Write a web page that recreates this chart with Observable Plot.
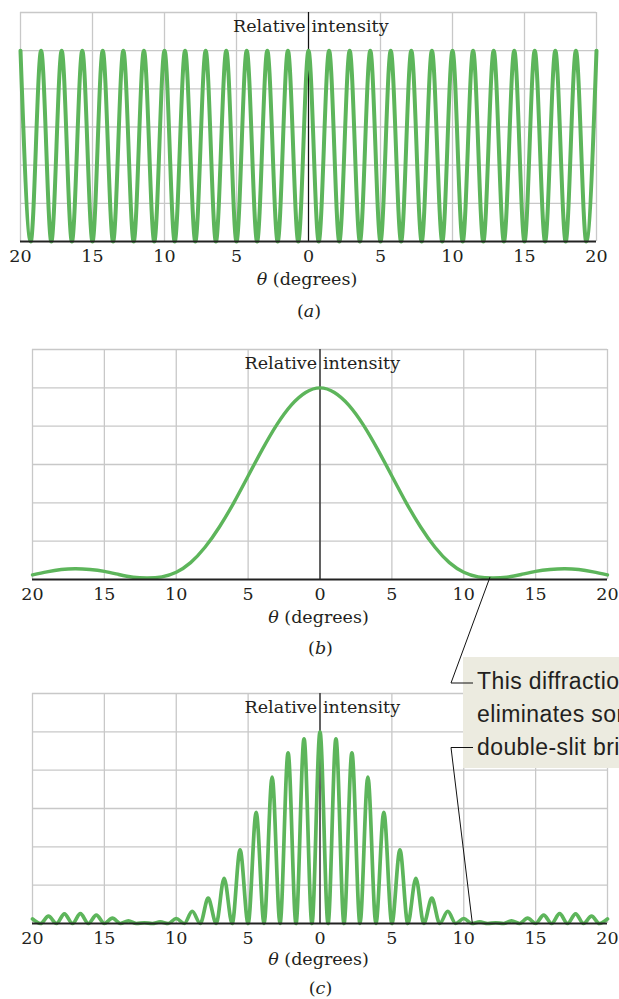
<!DOCTYPE html>
<html>
<head>
<meta charset="utf-8">
<script src="https://cdn.jsdelivr.net/npm/d3@7"></script>
<script src="https://cdn.jsdelivr.net/npm/@observablehq/plot@0.6"></script>
<style>
  html, body { margin: 0; padding: 0; background: #fff; }
  #root { position: relative; width: 619px; height: 999px; overflow: hidden; background: #fff; font-family: "DejaVu Serif", serif; color: #231f20; }
  .lbl { position: absolute; transform: translate(-50%, -50%); white-space: nowrap; font-size: 17.5px; line-height: 20px; }
  .box { position: absolute; background: #ecebe0; font-family: "Liberation Sans", Arial, sans-serif; font-size: 23px; letter-spacing: 0.4px; line-height: 33px; white-space: nowrap; color: #231f20; box-sizing: border-box; }
</style>
</head>
<body>
<div id="root"></div>
<script>
// ---------- data ----------
const xTicks = [-20, -15, -10, -5, 0, 5, 10, 15, 20];
const yGridValues = [1, 2, 3, 4, 5, 6];

// (a) double-slit interference: peaks and troughs
const aTheta = [-20, -19.29, -18.57, -17.86, -17.14, -16.43, -15.71, -15, -14.29, -13.57, -12.86, -12.14, -11.43, -10.71, -10, -9.29, -8.57, -7.86, -7.14, -6.43, -5.71, -5, -4.29, -3.57, -2.86, -2.14, -1.43, -0.71, 0, 0.71, 1.43, 2.14, 2.86, 3.57, 4.29, 5, 5.71, 6.43, 7.14, 7.86, 8.57, 9.29, 10, 10.71, 11.43, 12.14, 12.86, 13.57, 14.29, 15, 15.71, 16.43, 17.14, 17.86, 18.57, 19.29, 20];
const aIntensity = [5, 0, 5, 0, 5, 0, 5, 0, 5, 0, 5, 0, 5, 0, 5, 0, 5, 0, 5, 0, 5, 0, 5, 0, 5, 0, 5, 0, 5, 0, 5, 0, 5, 0, 5, 0, 5, 0, 5, 0, 5, 0, 5, 0, 5, 0, 5, 0, 5, 0, 5, 0, 5, 0, 5, 0, 5];

// (b) single-slit diffraction envelope
const bTheta = [-20, -19, -18, -17, -16, -15, -14, -13, -12, -11, -10, -9, -8, -7, -6, -5, -4, -3, -2, -1, 0, 1, 2, 3, 4, 5, 6, 7, 8, 9, 10, 11, 12, 13, 14, 15, 16, 17, 18, 19, 20];
const bIntensity = [0.12, 0.20, 0.26, 0.28, 0.26, 0.21, 0.13, 0.06, 0.04, 0.07, 0.19, 0.44, 0.84, 1.37, 2.00, 2.70, 3.40, 4.04, 4.55, 4.88, 5.00, 4.88, 4.55, 4.04, 3.40, 2.70, 2.00, 1.37, 0.84, 0.44, 0.19, 0.07, 0.04, 0.06, 0.13, 0.21, 0.26, 0.28, 0.26, 0.20, 0.12];

// (c) combined pattern: peaks and troughs
const cTheta = [-20, -19.44, -18.89, -18.33, -17.78, -17.22, -16.67, -16.11, -15.56, -15, -14.44, -13.89, -13.33, -12.78, -12.22, -11.67, -11.11, -10.56, -10, -9.44, -8.89, -8.33, -7.78, -7.22, -6.67, -6.11, -5.56, -5, -4.44, -3.89, -3.33, -2.78, -2.22, -1.67, -1.11, -0.56, 0, 0.56, 1.11, 1.67, 2.22, 2.78, 3.33, 3.89, 4.44, 5, 5.56, 6.11, 6.67, 7.22, 7.78, 8.33, 8.89, 9.44, 10, 10.56, 11.11, 11.67, 12.22, 12.78, 13.33, 13.89, 14.44, 15, 15.56, 16.11, 16.67, 17.22, 17.78, 18.33, 18.89, 19.44, 20];
const cIntensity = [0.12, 0, 0.19, 0, 0.25, 0, 0.26, 0, 0.22, 0, 0.14, 0, 0.07, 0, 0.02, 0, 0.04, 0, 0.13, 0, 0.32, 0, 0.66, 0, 1.18, 0, 1.92, 0, 2.90, 0, 3.82, 0, 4.45, 0, 4.82, 0, 5.00, 0, 4.82, 0, 4.45, 0, 3.82, 0, 2.90, 0, 1.92, 0, 1.18, 0, 0.66, 0, 0.32, 0, 0.13, 0, 0.04, 0, 0.02, 0, 0.07, 0, 0.14, 0, 0.22, 0, 0.26, 0, 0.25, 0, 0.19, 0, 0.12];

const panelLetters = ["a", "b", "c"];
const topText = ["Relative", "intensity"];
const axisLabelText = " (degrees)";
const calloutLines = ["This diffraction minimum", "eliminates some of the", "double-slit bright fringes."];

// ---------- styles ----------
const GREEN = "#5db55b";
const GRID = "#c8c8c8";
const INK = "#231f20";

const root = document.getElementById("root");

function panel({theta, intensity, top, marginLeft, marginRight, plotHeight, strokeWidth, curve}) {
  const data = theta.map((t, i) => ({t, v: intensity[i]}));
  const marginTop = 12, marginBottom = 30;
  const chart = Plot.plot({
    width: 619,
    height: marginTop + plotHeight + marginBottom,
    marginTop, marginBottom, marginLeft, marginRight,
    style: {fontFamily: "DejaVu Serif, serif", fontSize: "17.5px", color: INK, background: "transparent", overflow: "visible"},
    x: {domain: [-20, 20], label: null},
    y: {domain: [0, 6], axis: null, label: null},
    marks: [
      Plot.gridX(xTicks, {stroke: GRID, strokeOpacity: 1, strokeWidth: 1.3}),
      Plot.gridY(yGridValues, {stroke: GRID, strokeOpacity: 1, strokeWidth: 1.3}),
      Plot.ruleX([0], {stroke: "#111", strokeWidth: 1.2}),
      Plot.line(data, {x: "t", y: "v", curve, stroke: GREEN, strokeWidth, strokeLinejoin: "round", strokeLinecap: "round"}),
      Plot.ruleY([0], {stroke: "#222", strokeWidth: 1.8}),
      Plot.text([topText[0]], {x: () => 0, text: d => d, frameAnchor: "top", lineAnchor: "middle", dy: 14, dx: -3, textAnchor: "end", fill: INK}),
      Plot.text([topText[1]], {x: () => 0, text: d => d, frameAnchor: "top", lineAnchor: "middle", dy: 14, dx: 3, textAnchor: "start", fill: INK}),
      Plot.axisX(xTicks, {label: null, tickSize: 0, tickPadding: 8, tickFormat: d => Math.abs(d), fill: INK, fontSize: 17.5})
    ]
  });
  chart.style.position = "absolute";
  chart.style.left = "0px";
  chart.style.top = top + "px";
  root.appendChild(chart);
  return {chart, top, baseline: top + marginTop + plotHeight};
}

const panels = [
  panel({theta: aTheta, intensity: aIntensity, top: 0, marginLeft: 20, marginRight: 23, plotHeight: 229, strokeWidth: 4, curve: "monotone-x"}),
  panel({theta: bTheta, intensity: bIntensity, top: 337, marginLeft: 32, marginRight: 12, plotHeight: 230, strokeWidth: 3.4, curve: "natural"}),
  panel({theta: cTheta, intensity: cIntensity, top: 681, marginLeft: 32, marginRight: 12, plotHeight: 230, strokeWidth: 3.7, curve: "monotone-x"})
];

// axis titles and panel letters
const titleOffset = [38, 38, 36];
const letterOffset = [70, 69, 65];
panels.forEach((p, i) => {
  const cx = p.chart.scale("x").apply(0);
  const t = document.createElement("div");
  t.className = "lbl";
  t.style.left = (cx - 1) + "px";
  t.style.top = (p.baseline + titleOffset[i]) + "px";
  t.innerHTML = "<i>θ</i>" + axisLabelText;
  root.appendChild(t);
  const c = document.createElement("div");
  c.className = "lbl";
  c.style.left = (cx + 1) + "px";
  c.style.top = (p.baseline + letterOffset[i]) + "px";
  c.innerHTML = "(<i>" + panelLetters[i] + "</i>)";
  root.appendChild(c);
});

// callout box
const box = {left: 463, top: 657, width: 220, height: 111};
const boxEl = document.createElement("div");
boxEl.className = "box";
Object.assign(boxEl.style, {left: box.left + "px", top: box.top + "px", width: box.width + "px", height: box.height + "px", paddingLeft: "14px", paddingTop: "8px"});
boxEl.innerHTML = calloutLines.map(s => "<div>" + s + "</div>").join("");
root.appendChild(boxEl);

// leader lines, anchored on the curves through the charts' scales
const B = panels[1], C = panels[2];
const p1 = [B.chart.scale("x").apply(11.86), B.top + B.chart.scale("y").apply(0.05)];
const p2 = [C.chart.scale("x").apply(10.63), C.top + C.chart.scale("y").apply(0)];
const bendX = box.left - 12, endX = box.left + 10;
const y1 = box.top + 26, y2 = box.top + 90.5;
const ns = "http://www.w3.org/2000/svg";
const ov = document.createElementNS(ns, "svg");
ov.setAttribute("width", 619); ov.setAttribute("height", 999);
Object.assign(ov.style, {position: "absolute", left: "0px", top: "0px", pointerEvents: "none"});
[[p1, [bendX, y1], [endX, y1]], [p2, [bendX, y2], [endX, y2]]].forEach(pts => {
  const pl = document.createElementNS(ns, "polyline");
  pl.setAttribute("points", pts.map(p => p.join(",")).join(" "));
  pl.setAttribute("fill", "none");
  pl.setAttribute("stroke", "#111");
  pl.setAttribute("stroke-width", "1");
  ov.appendChild(pl);
});
root.appendChild(ov);
</script>
</body>
</html>
